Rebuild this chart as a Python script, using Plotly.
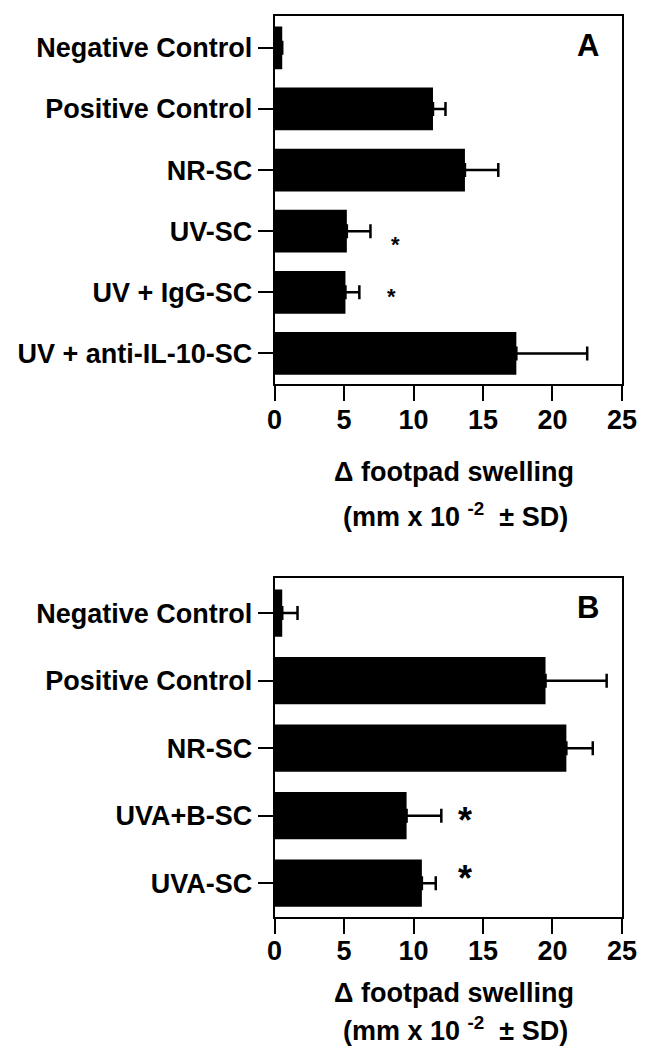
import plotly.graph_objects as go

# ---- data ----
cats_a = ["Negative Control", "Positive Control", "NR-SC", "UV-SC", "UV + IgG-SC", "UV + anti-IL-10-SC"]
vals_a = [0.55, 11.4, 13.7, 5.2, 5.1, 17.4]
sd_a = [0.0, 0.9, 2.4, 1.7, 1.0, 5.1]
stars_a = ["", "", "", "*", "*", ""]
star_x_a = [None, None, None, 8.7, 8.4, None]

cats_b = ["Negative Control", "Positive Control", "NR-SC", "UVA+B-SC", "UVA-SC"]
vals_b = [0.55, 19.5, 21.0, 9.5, 10.6]
sd_b = [1.1, 4.4, 1.9, 2.5, 1.0]
stars_b = ["", "", "", "*", "*"]
star_x_b = [None, None, None, 13.7, 13.7]

x_ticks = [0, 5, 10, 15, 20, 25]
x_title_1 = "Δ footpad swelling"
x_title_2 = "(mm x 10 <sup>-2</sup>  ± SD)"

W, H = 655, 1048
FONT = "Liberation Sans"


def py(px):
    return 1 - px / H


fig = go.Figure()

for cats, vals, sd, xa, ya in [(cats_a, vals_a, sd_a, "x", "y"), (cats_b, vals_b, sd_b, "x2", "y2")]:
    fig.add_trace(go.Bar(
        y=cats, x=vals, orientation="h", xaxis=xa, yaxis=ya,
        marker=dict(color="black", line=dict(width=0)), width=0.7,
        error_x=dict(type="data", array=sd, arrayminus=[0] * len(sd), symmetric=False,
                     color="black", thickness=2.5, width=7),
        showlegend=False, hoverinfo="skip",
    ))

x_dom = [268 / W, 628 / W]
axis_common = dict(showline=True, mirror=True, linecolor="black", linewidth=2,
                   ticks="outside", ticklen=15, tickwidth=2, tickcolor="black",
                   showgrid=False, zeroline=False,
                   tickfont=dict(family=FONT, size=27, color="black", weight="bold"))

fig.update_layout(
    width=W, height=H, margin=dict(l=0, r=0, t=0, b=0),
    paper_bgcolor="white", plot_bgcolor="white",
    bargap=0.3,
    xaxis=dict(domain=x_dom, anchor="y", range=[0, 25], tickvals=x_ticks, ticklabelstandoff=-4, **axis_common),
    yaxis=dict(domain=[py(376), py(8)], anchor="x", range=[5.5, -0.52], type="category",
               categoryorder="array", categoryarray=cats_a, **axis_common),
    xaxis2=dict(domain=x_dom, anchor="y2", range=[0, 25], tickvals=x_ticks, ticklabelstandoff=-6, **axis_common),
    yaxis2=dict(domain=[py(909), py(570)], anchor="x2", range=[4.5, -0.52], type="category",
                categoryorder="array", categoryarray=cats_b, **axis_common),
)

ann = []
# panel letters
for letter, ly in [("A", 38), ("B", 599)]:
    ann.append(dict(text=letter, x=593 / W, y=py(ly), xref="paper", yref="paper", showarrow=False,
                    xanchor="center", yanchor="middle",
                    font=dict(family=FONT, size=31, color="black", weight="bold")))

# stars
a_shift = [0, 0, 0, -13, -4, 0]
for c, s, sx, sh in zip(cats_a, stars_a, star_x_a, a_shift):
    if s:
        ann.append(dict(text=s, x=sx, y=c, xref="x", yref="y", showarrow=False, yshift=sh,
                        xanchor="center", yanchor="middle",
                        font=dict(family=FONT, size=22, color="black", weight="bold")))
b_shift = [0, 0, 0, -5, 5]
for c, s, sx, sh in zip(cats_b, stars_b, star_x_b, b_shift):
    if s:
        ann.append(dict(text=s, x=sx, y=c, xref="x2", yref="y2", showarrow=False, yshift=sh,
                        xanchor="center", yanchor="middle",
                        font=dict(family=FONT, size=36, color="black", weight="bold")))

# axis titles (two lines each)
for y1, y2 in [(464, 507), (985, 1021)]:
    ann.append(dict(text=x_title_1, x=454 / W, y=py(y1), xref="paper", yref="paper", showarrow=False,
                    xanchor="center", yanchor="middle",
                    font=dict(family=FONT, size=27, color="black", weight="bold")))
    ann.append(dict(text=x_title_2, x=456 / W, y=py(y2), xref="paper", yref="paper", showarrow=False,
                    xanchor="center", yanchor="middle",
                    font=dict(family=FONT, size=27, color="black", weight="bold")))

fig.update_layout(annotations=ann)
fig.write_html("out.html")
